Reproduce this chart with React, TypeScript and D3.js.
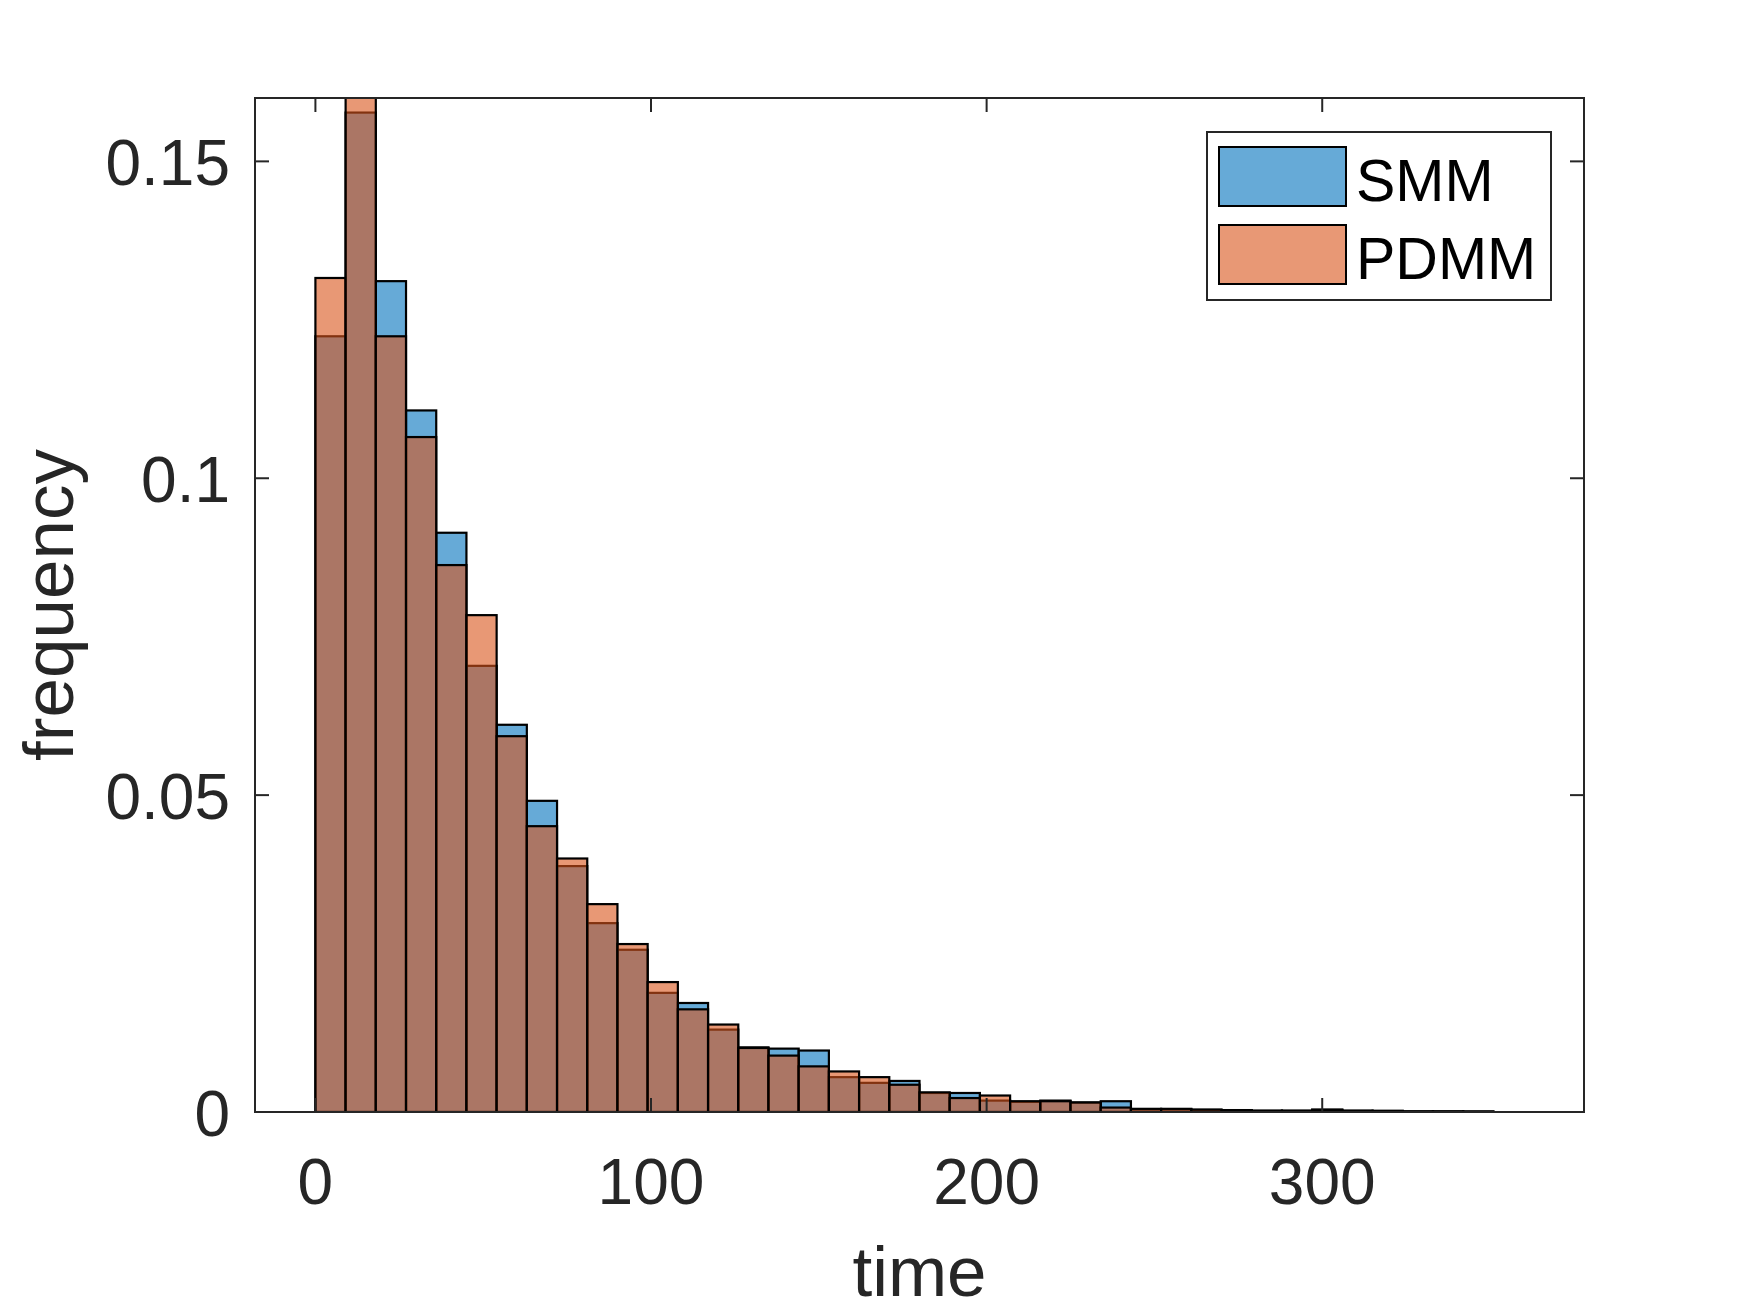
import { useEffect, useRef } from "react";
import * as d3 from "d3";

// Bin settings (time units)
const BIN_START = 0;
const BIN_WIDTH = 9;

// Normalised frequency per bin
const SMM = [
  0.1224, 0.1577, 0.1311, 0.1107, 0.0914, 0.0704, 0.0611, 0.0491, 0.0388, 0.0298,
  0.0256, 0.0188, 0.0172, 0.013, 0.0102, 0.01, 0.0097, 0.0055, 0.0046, 0.0049,
  0.003, 0.003, 0.0018, 0.0016, 0.0018, 0.0015, 0.0017, 0.0004, 0.0004, 0.0003,
  0.0003, 0.0002, 0.0002, 0.0004, 0.0002, 0.0002, 0.0001, 0.0001, 0.0001,
];

const PDMM = [
  0.1316, 0.1605, 0.1224, 0.1065, 0.0863, 0.0784, 0.0593, 0.0451, 0.04, 0.0328,
  0.0265, 0.0205, 0.0162, 0.0138, 0.0101, 0.0089, 0.0072, 0.0064, 0.0055, 0.0043,
  0.0031, 0.0022, 0.0026, 0.0017, 0.0017, 0.0015, 0.0007, 0.0005, 0.0005, 0.0004,
  0.0003, 0.0002, 0.0002, 0.0003, 0.0002, 0.0001, 0.0001, 0.0001, 0.00005,
];

const SERIES = ["SMM", "PDMM"];
const COLORS = ["#0072BD", "#D95319"];

const X_TICKS = [0, 100, 200, 300];
const Y_TICKS = [0, 0.05, 0.1, 0.15];
const X_DOMAIN: [number, number] = [-18, 378];
const Y_DOMAIN: [number, number] = [0, 0.16];

const WIDTH = 1750;
const HEIGHT = 1313;
const FONT = "'Liberation Sans', Arial, Helvetica, sans-serif";
const AXIS_COLOR = "#262626";

const App = () => {
  const svgRef = useRef<SVGSVGElement>(null);

  useEffect(() => {
    if (!svgRef.current) return;
    const svg = d3.select(svgRef.current);
    svg.selectAll("*").remove();

    const plot = { left: 255, right: 1584, top: 98, bottom: 1112 };

    const x = d3.scaleLinear().domain(X_DOMAIN).range([plot.left, plot.right]);
    const y = d3.scaleLinear().domain(Y_DOMAIN).range([plot.bottom, plot.top]);

    svg
      .append("rect")
      .attr("width", WIDTH)
      .attr("height", HEIGHT)
      .attr("fill", "white");

    svg
      .append("defs")
      .append("clipPath")
      .attr("id", "plot-clip")
      .append("rect")
      .attr("x", plot.left)
      .attr("y", plot.top)
      .attr("width", plot.right - plot.left)
      .attr("height", plot.bottom - plot.top);

    const bars = svg.append("g").attr("clip-path", "url(#plot-clip)");

    // SMM first, PDMM drawn on top with the same transparency
    [SMM, PDMM].forEach((values, s) => {
      bars
        .append("g")
        .selectAll("rect")
        .data(values)
        .enter()
        .append("rect")
        .attr("x", (_, i) => x(BIN_START + i * BIN_WIDTH))
        .attr("width", (_, i) => x(BIN_START + (i + 1) * BIN_WIDTH) - x(BIN_START + i * BIN_WIDTH))
        .attr("y", (d) => y(d))
        .attr("height", (d) => y(0) - y(d))
        .attr("fill", COLORS[s])
        .attr("fill-opacity", 0.6)
        .attr("stroke", "#000")
        .attr("stroke-width", 2.2);
    });

    // Box
    svg
      .append("rect")
      .attr("x", plot.left)
      .attr("y", plot.top)
      .attr("width", plot.right - plot.left)
      .attr("height", plot.bottom - plot.top)
      .attr("fill", "none")
      .attr("stroke", AXIS_COLOR)
      .attr("stroke-width", 2);

    const tickLen = 14;
    const ticks = svg.append("g").attr("stroke", AXIS_COLOR).attr("stroke-width", 2);

    X_TICKS.forEach((t) => {
      ticks.append("line").attr("x1", x(t)).attr("x2", x(t)).attr("y1", plot.bottom).attr("y2", plot.bottom - tickLen);
      ticks.append("line").attr("x1", x(t)).attr("x2", x(t)).attr("y1", plot.top).attr("y2", plot.top + tickLen);
    });
    Y_TICKS.forEach((t) => {
      ticks.append("line").attr("x1", plot.left).attr("x2", plot.left + tickLen).attr("y1", y(t)).attr("y2", y(t));
      ticks.append("line").attr("x1", plot.right).attr("x2", plot.right - tickLen).attr("y1", y(t)).attr("y2", y(t));
    });

    // Tick labels
    svg
      .append("g")
      .selectAll("text")
      .data(X_TICKS)
      .enter()
      .append("text")
      .attr("x", (d) => x(d))
      .attr("y", plot.bottom + 92)
      .attr("text-anchor", "middle")
      .style("font-family", FONT)
      .style("font-size", "64px")
      .attr("fill", AXIS_COLOR)
      .text((d) => String(d));

    svg
      .append("g")
      .selectAll("text")
      .data(Y_TICKS)
      .enter()
      .append("text")
      .attr("x", plot.left - 25)
      .attr("y", (d) => y(d) + 24)
      .attr("text-anchor", "end")
      .style("font-family", FONT)
      .style("font-size", "64px")
      .attr("fill", AXIS_COLOR)
      .text((d) => String(d));

    // Axis labels
    svg
      .append("text")
      .attr("x", (plot.left + plot.right) / 2)
      .attr("y", 1296)
      .attr("text-anchor", "middle")
      .style("font-family", FONT)
      .style("font-size", "71px")
      .attr("fill", AXIS_COLOR)
      .text("time");

    svg
      .append("text")
      .attr("transform", `translate(73, ${(plot.top + plot.bottom) / 2}) rotate(-90)`)
      .attr("text-anchor", "middle")
      .style("font-family", FONT)
      .style("font-size", "71px")
      .attr("fill", AXIS_COLOR)
      .text("frequency");

    // Legend
    const legend = svg.append("g");
    legend
      .append("rect")
      .attr("x", 1207)
      .attr("y", 132)
      .attr("width", 344)
      .attr("height", 168)
      .attr("fill", "white")
      .attr("stroke", AXIS_COLOR)
      .attr("stroke-width", 2);

    SERIES.forEach((name, i) => {
      const top = 147 + i * 78;
      legend
        .append("rect")
        .attr("x", 1219)
        .attr("y", top)
        .attr("width", 127)
        .attr("height", 59)
        .attr("fill", COLORS[i])
        .attr("fill-opacity", 0.6)
        .attr("stroke", "#000")
        .attr("stroke-width", 2);
      legend
        .append("text")
        .attr("x", 1356)
        .attr("y", top + 54)
        .style("font-family", FONT)
        .style("font-size", "59px")
        .attr("fill", "#000")
        .text(name);
    });
  }, []);

  return (
    <div style={{ position: "absolute", left: 0, top: 0 }}>
      <svg ref={svgRef} width={WIDTH} height={HEIGHT} style={{ display: "block" }} />
    </div>
  );
};

export default App;
